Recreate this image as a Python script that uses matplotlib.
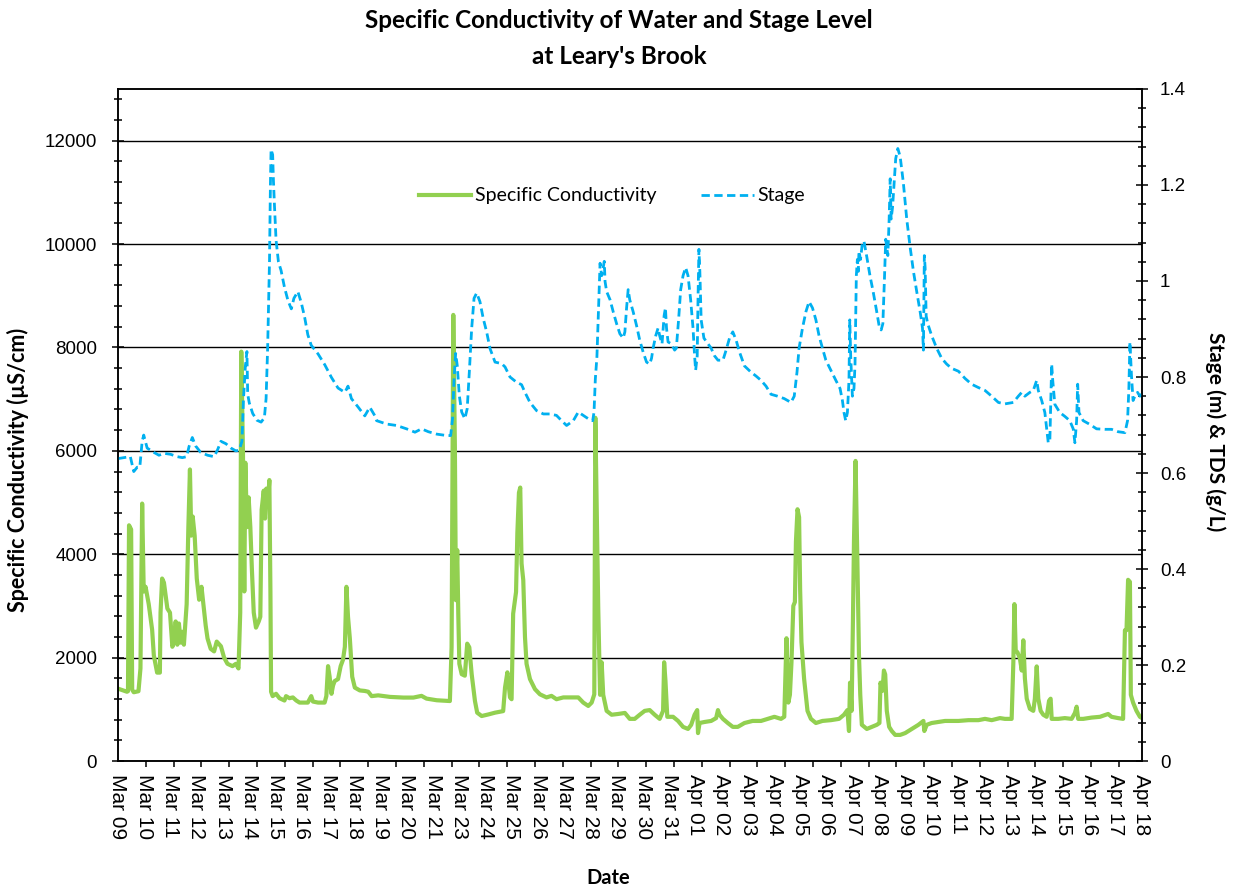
import numpy as np
import matplotlib.pyplot as plt
from matplotlib.ticker import MultipleLocator, FixedLocator, FuncFormatter

# category labels along the bottom (no Mar 22 in the logger data)
date_labels = ['Mar 09', 'Mar 10', 'Mar 11', 'Mar 12', 'Mar 13', 'Mar 14', 'Mar 15',
               'Mar 16', 'Mar 17', 'Mar 18', 'Mar 19', 'Mar 20', 'Mar 21', 'Mar 23',
               'Mar 24', 'Mar 25', 'Mar 26', 'Mar 27', 'Mar 28', 'Mar 29', 'Mar 30',
               'Mar 31', 'Apr 01', 'Apr 02', 'Apr 03', 'Apr 04', 'Apr 05', 'Apr 06',
               'Apr 07', 'Apr 08', 'Apr 09', 'Apr 10', 'Apr 11', 'Apr 12', 'Apr 13',
               'Apr 14', 'Apr 15', 'Apr 16', 'Apr 17', 'Apr 18']

# specific conductivity (uS/cm), position in label units from Mar 09
cond_day = [0.00, 0.34, 0.38, 0.42, 0.50, 0.54, 0.60, 0.78, 0.855, 0.92, 0.98, 1.05, 1.17, 1.30,
            1.365, 1.49, 1.595, 1.62, 1.68, 1.75, 1.88, 1.98, 2.07, 2.13, 2.195, 2.26, 2.32,
            2.39, 2.45, 2.51, 2.615, 2.68, 2.74, 2.79, 2.845, 2.92, 3.00, 3.09, 3.18, 3.25,
            3.34, 3.41, 3.53, 3.66, 3.76, 3.92, 4.04, 4.17, 4.36, 4.49, 4.59, 4.655, 4.695,
            4.76, 4.81, 4.85, 4.91, 4.975, 5.04, 5.10, 5.17, 5.255, 5.36, 5.42, 5.47, 5.55,
            5.60, 5.65, 5.70, 5.765, 5.805, 5.83, 5.89, 6.02, 6.15, 6.34, 6.40, 6.53, 6.66,
            6.79, 6.915, 7.23, 7.36, 7.425, 7.62, 7.87, 7.935, 8.00, 8.06, 8.13, 8.19, 8.25,
            8.38, 8.48, 8.57, 8.64, 8.70, 8.76, 8.83, 8.92, 9.02, 9.21, 9.40, 9.53, 9.66,
            9.91, 10.36, 10.87, 11.25, 11.56, 11.75, 12.14, 12.64, 12.705, 12.77, 12.83,
            12.87, 12.92, 12.96, 13.00, 13.09, 13.21, 13.30, 13.38, 13.47, 13.595, 13.68,
            13.85, 14.10, 14.36, 14.67, 14.74, 14.83, 14.93, 14.99, 15.05, 15.16, 15.21,
            15.27, 15.32, 15.37, 15.435, 15.50, 15.56, 15.69, 15.88, 16.07, 16.32, 16.51,
            16.70, 16.96, 17.21, 17.53, 17.72, 17.91, 18.04, 18.14, 18.18, 18.29, 18.36,
            18.42, 18.48, 18.61, 18.80, 19.05, 19.305, 19.49, 19.68, 19.87, 20.06, 20.25,
            20.44, 20.63, 20.76, 20.80, 20.85, 20.92, 21.14, 21.33, 21.52, 21.71, 21.83,
            21.96, 22.06, 22.09, 22.15, 22.34, 22.59, 22.78, 22.85, 22.91, 23.04, 23.225,
            23.415, 23.605, 23.86, 24.17, 24.49, 24.74, 25.00, 25.25, 25.375, 25.46, 25.53,
            25.59, 25.65, 25.72, 25.78, 25.82, 25.88, 25.94, 25.98, 26.03, 26.13, 26.26,
            26.39, 26.58, 26.83, 27.15, 27.46, 27.65, 27.78, 27.84, 27.88, 27.94, 27.99,
            28.03, 28.09, 28.16, 28.22, 28.27, 28.33, 28.52, 28.71, 28.90, 29.00, 29.04,
            29.12, 29.17, 29.22, 29.28, 29.37, 29.47, 29.60, 29.79, 29.98, 30.23, 30.485,
            30.675, 30.71, 30.80, 30.99, 31.25, 31.50, 32.01, 32.39, 32.77, 33.02, 33.275,
            33.59, 33.78, 34.035, 34.10, 34.14, 34.19, 34.26, 34.35, 34.42, 34.48, 34.54,
            34.61, 34.73, 34.86, 34.92, 34.99, 35.05, 35.14, 35.24, 35.37, 35.46, 35.52,
            35.56, 35.81, 36.06, 36.32, 36.445, 36.51, 36.57, 36.76, 37.08, 37.40, 37.71,
            37.84, 38.09, 38.28, 38.35, 38.41, 38.47, 38.54, 38.575, 38.66, 38.79, 38.92,
            39.00]
cond_val = [1400, 1340, 1350, 4560, 4480, 1380, 1330, 1350, 1790, 4980, 3280, 3370, 3035, 2540,
            2040, 1710, 1710, 2870, 3530, 3450, 2950, 2870, 2210, 2290, 2700, 2250, 2660,
            2290, 2500, 2250, 3035, 4525, 5640, 4360, 4730, 4360, 3530, 3120, 3370, 3035,
            2620, 2370, 2170, 2120, 2310, 2220, 2000, 1880, 1835, 1880, 1790, 2870, 7920,
            5930, 3280, 5770, 4525, 5100, 4525, 3700, 2870, 2580, 2700, 2790, 4860, 5230,
            4690, 5270, 4940, 5435, 3280, 1340, 1255, 1300, 1215, 1170, 1255, 1215, 1230,
            1170, 1130, 1130, 1255, 1150, 1130, 1130, 1255, 1835, 1630, 1300, 1460, 1545,
            1585, 1835, 1960, 2210, 3370, 2790, 2370, 1630, 1420, 1365, 1355, 1340, 1255,
            1270, 1240, 1227, 1227, 1260, 1207, 1175, 1160, 2200, 8630, 6100,
            3110, 4080, 2850, 1880, 1680, 1650, 2270, 2200, 1680, 1160, 935,
            870, 900, 935, 965, 1420, 1715, 1230, 1195, 2850, 3270, 4410,
            5190, 5290, 3820, 3500, 2400, 1880, 1585, 1390, 1290, 1230, 1260,
            1195, 1230, 1230, 1230, 1130, 1065, 1130, 1290, 6640, 2960, 1280,
            1910, 1280, 970, 895, 910, 930, 815, 815, 895, 970, 985,
            895, 815, 970, 1910, 1555, 855, 855, 775, 660, 620, 700,
            895, 985, 540, 735, 755, 775, 830, 985, 895, 815, 735,
            660, 660, 735, 775, 775, 815, 855, 815, 855, 2375, 1130,
            1280, 1910, 3000, 3075, 4245, 4870, 4715, 3310, 2300, 1595, 970,
            815, 735, 775, 790, 815, 895, 985, 580, 1515, 970, 2690,
            4245, 5805, 3855, 2060, 1280, 700, 620, 660, 700, 735, 1515,
            1360, 1750, 1675, 970, 660, 580, 505, 505, 540, 620, 700,
            775, 580, 700, 735, 755, 775, 775, 790, 790, 815, 790,
            830, 815, 815, 1905, 3035, 2140, 2100, 1985, 1750, 2335, 1595,
            1205, 1010, 970, 1205, 1830, 1205, 970, 895, 855, 1165, 1205,
            815, 815, 830, 815, 930, 1050, 815, 815, 840, 855, 910,
            855, 830, 815, 2530, 2530, 3505, 3465, 1280, 1130, 970, 855,
            830]

# stage (m), same position units
stage_day = [0.00, 0.22, 0.47, 0.60, 0.73, 0.83, 0.92, 0.98, 1.11, 1.365, 1.56, 1.75, 2.00,
             2.26, 2.45, 2.615, 2.705, 2.83, 2.96, 3.15, 3.41, 3.66, 3.79, 3.92, 4.11, 4.30,
             4.49, 4.62, 4.72, 4.78, 4.85, 4.91, 4.94, 5.00, 5.13, 5.29, 5.45, 5.575, 5.64,
             5.70, 5.77, 5.805, 5.83, 5.89, 5.92, 5.96, 6.02, 6.11, 6.21, 6.34, 6.47, 6.60,
             6.70, 6.85, 6.98, 7.11, 7.23, 7.36, 7.62, 7.87, 8.13, 8.38, 8.64, 8.76, 8.89,
             9.15, 9.40, 9.59, 9.785, 9.85, 10.23, 10.61, 10.99, 11.31, 11.56, 11.82, 12.14,
             12.52, 12.67, 12.74, 12.80, 12.86, 12.92, 13.00, 13.09, 13.21, 13.30, 13.38,
             13.47, 13.56, 13.66, 13.785, 13.91, 14.04, 14.17, 14.36, 14.61, 14.74, 14.93,
             15.18, 15.37, 15.50, 15.69, 15.94, 16.20, 16.45, 16.70, 16.895, 17.085, 17.34,
             17.53, 17.72, 17.91, 18.08, 18.13, 18.18, 18.24, 18.36, 18.42, 18.48, 18.52,
             18.55, 18.61, 18.74, 18.86, 18.99, 19.115, 19.24, 19.305, 19.37, 19.43, 19.49,
             19.62, 19.75, 19.87, 20.00, 20.13, 20.25, 20.32, 20.38, 20.48, 20.57, 20.63,
             20.72, 20.80, 20.85, 20.89, 20.95, 21.075, 21.20, 21.265, 21.35, 21.43, 21.52,
             21.62, 21.71, 21.81, 21.90, 21.96, 22.00, 22.06, 22.09, 22.125, 22.16, 22.21,
             22.315, 22.47, 22.59, 22.72, 22.85, 23.04, 23.16, 23.29, 23.415, 23.54, 23.67,
             23.86, 24.11, 24.30, 24.49, 24.68, 24.87, 25.12, 25.375, 25.63, 25.755, 25.86,
             25.94, 26.07, 26.20, 26.32, 26.45, 26.58, 26.70, 26.83, 26.96, 27.15, 27.34,
             27.50, 27.59, 27.65, 27.715, 27.78, 27.84, 27.87, 27.905, 27.97, 28.03, 28.07,
             28.12, 28.16, 28.195, 28.22, 28.28, 28.35, 28.41, 28.51, 28.64, 28.76, 28.90,
             28.99, 29.065, 29.13, 29.19, 29.24, 29.32, 29.37, 29.41, 29.445, 29.50, 29.57,
             29.62, 29.70, 29.79, 29.91, 30.04, 30.17, 30.295, 30.42, 30.55, 30.64, 30.675,
             30.71, 30.74, 30.78, 30.84, 30.99, 31.18, 31.37, 31.56, 31.75, 32.01, 32.26,
             32.51, 32.77, 33.02, 33.275, 33.53, 33.78, 34.10, 34.29, 34.42, 34.54, 34.73,
             34.86, 34.99, 35.05, 35.18, 35.30, 35.37, 35.43, 35.49, 35.56, 35.60, 35.68,
             35.87, 36.06, 36.25, 36.38, 36.445, 36.51, 36.55, 36.60, 36.76, 37.02, 37.27,
             37.59, 37.84, 38.09, 38.35, 38.45, 38.50, 38.54, 38.60, 38.66, 38.73, 38.83,
             38.92, 39.00]
stage_val = [0.630, 0.632, 0.634, 0.603, 0.612, 0.612, 0.666, 0.679, 0.652, 0.643, 0.637, 0.641,
             0.639, 0.634, 0.632, 0.634, 0.655, 0.674, 0.656, 0.643, 0.637, 0.634, 0.648,
             0.666, 0.661, 0.652, 0.646, 0.648, 0.666, 0.755, 0.822, 0.853, 0.764, 0.746,
             0.724, 0.710, 0.706, 0.715, 0.755, 0.862, 1.041, 1.201, 1.274, 1.263, 1.209,
             1.156, 1.085, 1.040, 1.022, 0.987, 0.960, 0.942, 0.964, 0.978, 0.955, 0.924,
             0.888, 0.866, 0.848, 0.826, 0.799, 0.777, 0.768, 0.781, 0.755, 0.737, 0.719,
             0.737, 0.719, 0.709, 0.702, 0.699, 0.692, 0.685, 0.692, 0.686, 0.681, 0.678,
             0.678, 0.713, 0.796, 0.849, 0.824, 0.761, 0.727, 0.713, 0.734, 0.810, 0.901,
             0.964, 0.975, 0.957, 0.922, 0.894, 0.859, 0.831, 0.828, 0.821, 0.800, 0.789,
             0.784, 0.768, 0.747, 0.730, 0.723, 0.723, 0.720, 0.709, 0.699, 0.709, 0.727,
             0.720, 0.713, 0.709, 0.727, 0.796, 0.842, 1.037, 1.011, 1.028, 1.041, 0.999,
             0.978, 0.961, 0.936, 0.911, 0.890, 0.881, 0.894, 0.944, 0.982, 0.961, 0.936,
             0.907, 0.877, 0.852, 0.831, 0.827, 0.839, 0.860, 0.886, 0.902, 0.886, 0.869,
             0.928, 0.944, 0.902, 0.873, 0.869, 0.856, 0.860, 0.919, 0.982, 1.011, 1.028,
             1.011, 0.961, 0.902, 0.844, 0.814, 0.844, 0.961, 1.066, 1.020, 0.919, 0.881,
             0.869, 0.860, 0.844, 0.835, 0.835, 0.856, 0.881, 0.894, 0.877, 0.852, 0.823,
             0.810, 0.802, 0.793, 0.781, 0.764, 0.760, 0.755, 0.747, 0.760, 0.810, 0.860,
             0.902, 0.936, 0.957, 0.944, 0.919, 0.886, 0.860, 0.835, 0.814, 0.793, 0.776,
             0.751, 0.726, 0.709, 0.726, 0.793, 0.919, 0.844, 0.760, 0.776, 0.827, 1.011,
             1.045, 1.020, 1.062, 1.045, 1.079, 1.083, 1.053, 1.011, 0.978, 0.935, 0.906,
             0.898, 0.911, 1.003, 1.087, 1.053, 1.129, 1.213, 1.129, 1.154, 1.213, 1.255,
             1.276, 1.259, 1.205, 1.129, 1.070, 1.020, 0.978, 0.936, 0.902, 0.856, 1.053,
             1.028, 0.927, 0.911, 0.886, 0.860, 0.839, 0.827, 0.818, 0.812, 0.797, 0.785,
             0.778, 0.772, 0.760, 0.747, 0.744, 0.747, 0.760, 0.768, 0.760, 0.768, 0.772,
             0.793, 0.772, 0.751, 0.726, 0.692, 0.663, 0.667, 0.827, 0.793, 0.743, 0.726,
             0.718, 0.709, 0.692, 0.663, 0.709, 0.785, 0.726, 0.709, 0.701, 0.692, 0.691,
             0.691, 0.686, 0.684, 0.709, 0.776, 0.873, 0.802, 0.751, 0.760, 0.768, 0.760,
             0.765]

green = '#92D050'
blue = '#00B0F0'
plt.rcParams['font.family'] = 'Liberation Sans'
lab_font = 'Lato'

fig = plt.figure(figsize=(12.33, 8.9), dpi=100)
ax = fig.add_axes([118 / 1233, 1 - 761 / 890, 1024 / 1233, 672 / 890])
ax2 = ax.twinx()

ax.plot(cond_day, cond_val, color=green, linewidth=3.0, solid_joinstyle='round',
        label='Specific Conductivity')
ax2.plot(stage_day, stage_val, color=blue, linewidth=2.0, linestyle=(0, (3, 1.6)),
         label='Stage')

ax.set_xlim(0, 39)
ax.set_ylim(0, 13000)
ax2.set_ylim(0, 1.4)

ax.yaxis.set_major_locator(MultipleLocator(2000))
ax.yaxis.set_minor_locator(MultipleLocator(400))
ax2.yaxis.set_major_locator(MultipleLocator(0.2))
ax2.yaxis.set_minor_locator(MultipleLocator(0.04))
ax2.yaxis.set_major_formatter(FuncFormatter(lambda v, p: '%g' % round(v, 2)))

ax.grid(axis='y', which='major', color='black', linewidth=1.0)
ax.set_axisbelow(True)

# labels sit on the categories, tick marks follow their own spacing
ax.set_xticks(range(len(date_labels)))
ax.set_xticklabels(date_labels, rotation=270, fontsize=15)
ax.xaxis.set_minor_locator(FixedLocator(np.arange(37) * 1.0587))
ax.tick_params(axis='x', which='major', length=0, pad=9)
ax.tick_params(axis='x', which='minor', direction='out', length=4, width=1.1)

ax.tick_params(axis='y', which='major', direction='inout', length=8, width=1.1,
               labelsize=13.5, pad=11)
ax.tick_params(axis='y', which='minor', direction='inout', length=6, width=1.1)
ax2.tick_params(axis='y', which='major', direction='inout', length=8, width=1.1,
                labelsize=13.5, pad=9)
ax2.tick_params(axis='y', which='minor', direction='inout', length=6, width=1.1)

for a in (ax, ax2):
    for s in a.spines.values():
        s.set_color('black')
        s.set_linewidth(1.1)

fig.text(619 / 1233, 1 - 20 / 890, 'Specific Conductivity of Water and Stage Level',
         ha='center', va='center', fontsize=17.5, fontweight='bold', family=lab_font)
fig.text(619 / 1233, 1 - 57 / 890, "at Leary's Brook",
         ha='center', va='center', fontsize=17.5, fontweight='bold', family=lab_font)
fig.text(18 / 1233, 1 - 470 / 890, 'Specific Conductivity (µS/cm)', rotation=90,
         ha='center', va='center', fontsize=15.5, fontweight='bold', family=lab_font)
fig.text(1215 / 1233, 1 - 432 / 890, 'Stage (m) & TDS (g/L)', rotation=270,
         ha='center', va='center', fontsize=15, fontweight='bold', family=lab_font)
fig.text(608 / 1233, 1 - 878 / 890, 'Date',
         ha='center', va='center', fontsize=14.5, fontweight='bold', family=lab_font)

h1, l1 = ax.get_legend_handles_labels()
h2, l2 = ax2.get_legend_handles_labels()
ax2.legend(h1 + h2, l1 + l2, loc='center', bbox_to_anchor=(612 / 1233, 1 - 196 / 890),
           bbox_transform=fig.transFigure, ncol=2, frameon=False,
           prop={'family': lab_font, 'size': 14}, handlelength=2.7,
           handletextpad=0.2, columnspacing=2.3)

fig.savefig('out.png', dpi=100)
